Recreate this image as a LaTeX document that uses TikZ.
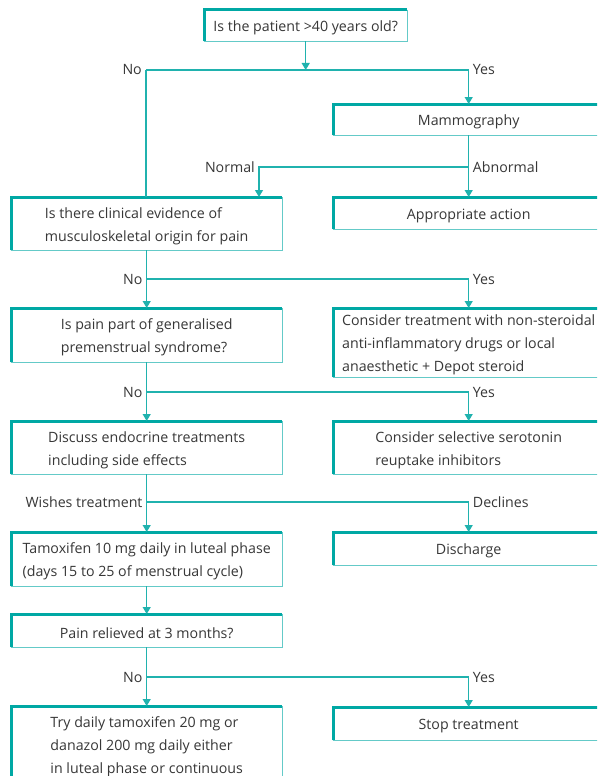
\documentclass[tikz,border=0pt]{standalone}
\usepackage{fontspec}
\setmainfont{Open Sans}
\usetikzlibrary{arrows.meta,calc}
\definecolor{tealA}{RGB}{0,168,164}
\definecolor{tealB}{RGB}{100,202,200}
\definecolor{tealC}{RGB}{32,178,174}
\definecolor{txt}{RGB}{55,55,55}
\tikzset{
 fbox/.style={anchor=north west, inner sep=0pt, minimum width=271pt, align=left, text=txt,
   font=\fontsize{14.2}{23}\selectfont, yshift=-2.5pt},
 conn/.style={draw=tealC, line width=1.3pt},
 arr/.style={conn, -{Triangle[width=8pt,length=7pt]}},
 lab/.style={text=txt, font=\fontsize{14.2}{16}\selectfont, inner sep=4pt},
 thinedge/.style={draw=tealB, line width=1.2pt},
 thickedge/.style={draw=tealA, line width=3pt},
}
% border of a box: the text node is shifted down by 2.5pt, its frame is not
\newcommand{\edgesof}[1]{%
  \draw[thinedge] ([yshift=2.5pt]#1.north east) -- ([yshift=2.5pt]#1.south east) -- ([yshift=2.5pt]#1.south west);
  \draw[thickedge] ([yshift=2.5pt]#1.south west) -- ([yshift=2.5pt]#1.north west) -- ([yshift=2.5pt]#1.north east);
}
\begin{document}
\begin{tikzpicture}[x=1pt,y=-1pt]
\useasboundingbox (0,0) rectangle (597,776);
\clip (0,0) rectangle (597,776);
\fill[white] (0,0) rectangle (597,776);

% boxes
\node[fbox, minimum width=203pt, minimum height=31pt] (q1) at (204,10) {Is the patient >40 years old?};
\node[fbox, minimum height=31pt] (mam) at (333,104) {Mammography};
\node[fbox, minimum height=53pt] (b1) at (11,197) {Is there clinical evidence of\\musculoskeletal origin for pain};
\node[fbox, minimum height=32pt] (appr) at (333,197) {Appropriate action};
\node[fbox, minimum height=54pt] (b2) at (11,308) {Is pain part of generalised\\premenstrual syndrome?};
\node[fbox, minimum height=69pt] (r2) at (333,308) {Consider treatment with non-steroidal\\anti-inflammatory drugs or local\\anaesthetic + Depot steroid};
\node[fbox, minimum height=53pt] (b3) at (11,421) {Discuss endocrine treatments\\including side effects};
\node[fbox, minimum height=53pt] (r3) at (333,421) {Consider selective serotonin\\reuptake inhibitors};
\node[fbox, minimum height=54pt] (b4) at (11,532) {Tamoxifen 10 mg daily in luteal phase\\(days 15 to 25 of menstrual cycle)};
\node[fbox, minimum height=33pt] (r4) at (333,532) {Discharge};
\node[fbox, minimum height=33pt] (b5) at (11,614) {Pain relieved at 3 months?};
\node[fbox, minimum height=76pt] (b6) at (11,706) {Try daily tamoxifen 20 mg or\\danazol 200 mg daily either\\in luteal phase or continuous};
\node[fbox, minimum height=33pt] (r6) at (333,707) {Stop treatment};

\foreach \n in {q1,mam,b1,appr,b2,r2,b3,r3,b4,r4,b5,b6,r6} {\edgesof{\n}}

% frame-level anchors (undo the text shift)
\foreach \n in {q1,mam,b1,appr,b2,r2,b3,r3,b4,r4,b5,b6,r6} {
  \coordinate (\n-top) at ([yshift=2.5pt]\n.north);
  \coordinate (\n-bot) at ([yshift=2.5pt]\n.south);
}

% junction 1
\coordinate (j1) at (q1-bot |- 0,70);
\coordinate (j1L) at (146,70);
\coordinate (j1R) at (mam-top |- 0,70);
\draw[arr] (q1-bot) -- (j1);
\draw[conn] (j1L) -- (j1R);
\draw[arr] (j1R) -- (mam-top);
\draw[conn] (j1L) -- (j1L |- b1-top);
\node[lab, anchor=east] at (j1L) {No};
\node[lab, anchor=west] at (j1R) {Yes};

% junction 2
\coordinate (j2R) at (mam-bot |- 0,167);
\coordinate (j2L) at (259,167);
\draw[arr] (mam-bot) -- (appr-top);
\draw[arr] (j2R) -- (j2L) -- (j2L |- b1-top);
\node[lab, anchor=east] at (j2L) {Normal};
\node[lab, anchor=west] at (j2R) {Abnormal};

% junction 3
\coordinate (j3L) at (b1-bot |- 0,279);
\coordinate (j3R) at (r2-top |- 0,279);
\draw[arr] (b1-bot) -- (b2-top);
\draw[arr] (j3L) -- (j3R) -- (r2-top);
\node[lab, anchor=east] at (j3L) {No};
\node[lab, anchor=west] at (j3R) {Yes};

% junction 4
\coordinate (j4L) at (b2-bot |- 0,392);
\coordinate (j4R) at (r3-top |- 0,392);
\draw[arr] (b2-bot) -- (b3-top);
\draw[arr] (j4L) -- (j4R) -- (r3-top);
\node[lab, anchor=east] at (j4L) {No};
\node[lab, anchor=west] at (j4R) {Yes};

% junction 5
\coordinate (j5L) at (b3-bot |- 0,502);
\coordinate (j5R) at (r4-top |- 0,502);
\draw[arr] (b3-bot) -- (b4-top);
\draw[arr] (j5L) -- (j5R) -- (r4-top);
\node[lab, anchor=east] at (j5L) {Wishes treatment};
\node[lab, anchor=west] at (j5R) {Declines};

% b4 -> b5
\draw[arr] (b4-bot) -- (b5-top);

% junction 6
\coordinate (j6L) at (b5-bot |- 0,677);
\coordinate (j6R) at (r6-top |- 0,677);
\draw[arr] (b5-bot) -- (b6-top);
\draw[arr] (j6L) -- (j6R) -- (r6-top);
\node[lab, anchor=east] at (j6L) {No};
\node[lab, anchor=west] at (j6R) {Yes};
\end{tikzpicture}
\end{document}
